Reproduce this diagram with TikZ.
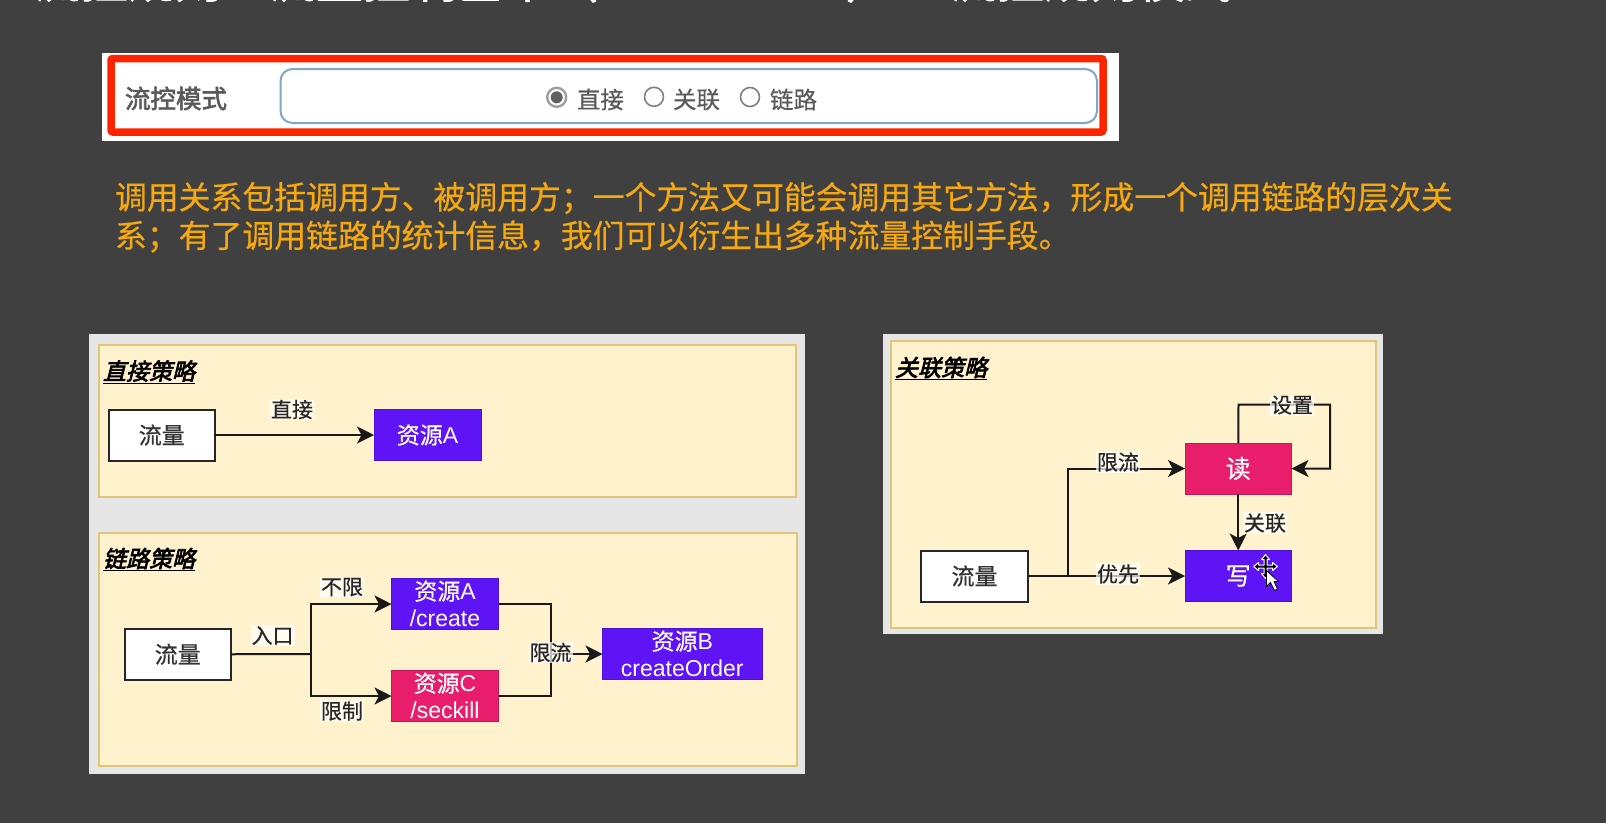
\documentclass[tikz,border=0pt]{standalone}
\usepackage{fontspec}
\usetikzlibrary{arrows.meta}
\setmainfont{Noto Sans CJK SC}
\newfontfamily\la{Liberation Sans}
\newfontfamily\cjbold[FakeBold=1.5]{Noto Sans CJK SC}
\newfontfamily\cjmode[FakeBold=2.2]{Noto Sans CJK SC}
\newfontfamily\cjmed[FakeBold=0.5]{Noto Sans CJK SC}
\newfontfamily\cjital[FakeSlant=0.25,FakeBold=3]{Noto Sans CJK SC}
\newcommand{\fsz}[1]{\fontsize{#1pt}{#1pt}\selectfont}
\definecolor{bgdark}{HTML}{404040}
\definecolor{panelgray}{HTML}{E6E6E6}
\definecolor{cream}{HTML}{FFF2CC}
\definecolor{creamline}{HTML}{DFC67A}
\definecolor{violetbox}{HTML}{5E14F5}
\definecolor{pinkbox}{HTML}{E91E6B}
\definecolor{orangetxt}{HTML}{F5A80F}
\definecolor{redframe}{HTML}{FF2400}
\definecolor{inputline}{HTML}{7FA8C9}
\definecolor{greytxt}{HTML}{5A5A5A}
\tikzset{
  x=1pt,y=-1pt,
  every node/.style={inner sep=0pt,outer sep=0pt},
  panelgrey/.style={fill=panelgray},
  panelcream/.style={fill=cream,draw=creamline,line width=2pt},
  whitebox/.style={fill=white,draw=black!85,line width=2pt,text=black!80,font=\cjmed\fsz{23}},
  violet box/.style={fill=violetbox,draw=violetbox!85!black,line width=1pt,text=white,font=\cjmed\fsz{23},align=center},
  pink box/.style={fill=pinkbox,draw=pinkbox!85!black,line width=1pt,text=white,font=\cjmed\fsz{23},align=center},
  conn/.style={draw=black!90,line width=2pt},
  arr/.style={conn,-{Stealth[length=17pt,width=17pt,inset=4.5pt]}},
  edgelabel/.style={fill=white,fill opacity=.7,text opacity=1,text=black!85,font=\cjmed\fsz{21},inner sep=1pt},
  strategy/.style={text=black,font=\cjital\fsz{23},anchor=west},
  optlabel/.style={text=greytxt,font=\cjmed\fsz{23.5},anchor=center},
  radio/.style={circle,draw=black!50,line width=1.6pt,fill=white,minimum size=19pt},
}
\newcommand{\bx}[7][]{%
  \node[#2,minimum width={(#6-#4)*1pt},minimum height={(#7-#5)*1pt},#1] (#3) at ({(#4+#6)/2},{(#5+#7)/2}) }
\begin{document}
\begin{tikzpicture}
\useasboundingbox (0,0) rectangle (1606,823);
\fill[bgdark] (0,0) rectangle (1606,823);

% clipped title, only its lower edge is inside the page
\begin{scope}
\clip (0,0) rectangle (1606,823);
\node[anchor=base west,text=white,font=\cjbold\fsz{47}] (titleA) at (34,-2) {流控规则：流量控制基本（};
\node[anchor=base west,text=white,font=\cjbold\fsz{47}] (titleB) at (846,-2) {）};
\node[anchor=base west,text=white,font=\cjbold\fsz{47}] (titleC) at (950,-2) {流控规则模式};
\end{scope}

% form strip
\bx{fill=white}{strip}{102.4}{52.5}{1119}{140.5}{};
\bx{draw=redframe,line width=7.5pt,rounded corners=2pt}{frame}{111}{58.5}{1103}{132}{};
\bx{draw=inputline,line width=2pt,fill=white,rounded corners=12pt}{input}{280.5}{69}{1097}{123}{};
\node[text=greytxt,font=\cjmode\fsz{25.5},anchor=west] (mode) at (125,98.5) {流控模式};
\node[radio,draw=black!38,line width=2.4pt] (r1) at (556.7,97.3) {};
\fill[black!62] (r1.center) circle (6);
\node[optlabel] (t1) at (600.5,99.5) {直接};
\node[radio] (r2) at (654,96.8) {};
\node[optlabel] (t2) at (696.5,99.5) {关联};
\node[radio] (r3) at (750,97) {};
\node[optlabel] (t3) at (793.5,99.5) {链路};

% orange paragraph
\node[anchor=north west,text=orangetxt,font=\cjmed\fontsize{31.85pt}{38.5pt}\selectfont,align=left] (para) at (115,182)
 {调用关系包括调用方、被调用方；一个方法又可能会调用其它方法，形成一个调用链路的层次关\\
  系；有了调用链路的统计信息，我们可以衍生出多种流量控制手段。};

% left panels
\bx{panelgrey}{leftbg}{88.5}{334}{805}{774}{};
\bx{panelcream}{direct}{98.5}{344.5}{796}{497}{};
\bx{panelcream}{chain}{98.5}{532.5}{797}{766}{};
\node[strategy] (directT) at (103,372) {\underline{直接策略}};
\node[strategy] (chainT) at (103,559.5) {\underline{链路策略}};

\bx{whitebox}{dflow}{108.5}{409.5}{215}{460.5}{流量};
\bx{violet box}{dres}{374}{409.5}{481}{460.5}{资源{\la A}};
\draw[arr] (dflow) -- (dres);
\node[edgelabel] (dl) at (292,409.5) {直接};

\bx{whitebox}{cflow}{124.5}{629}{231}{679.5}{流量};
\bx[font=\cjmed\fontsize{23pt}{27pt}\selectfont]{violet box}{cresA}{391.5}{578.5}{498.5}{629.5}{\raisebox{1pt}{资源{\la A}}\\[-0.5pt]\raisebox{1pt}{\la /create}};
\bx[font=\cjmed\fontsize{23pt}{27pt}\selectfont]{pink box}{cresC}{391.5}{670.5}{498.5}{721.5}{\raisebox{1pt}{资源{\la C}}\\[-0.5pt]\raisebox{1pt}{\la /seckill}};
\bx[font=\cjmed\fontsize{23pt}{27pt}\selectfont]{violet box}{cresB}{602.5}{628.5}{762}{679.5}{\raisebox{1pt}{资源{\la B}}\\[-0.5pt]\raisebox{1pt}{\la createOrder}};
\coordinate (jl) at (311,654);
\coordinate (jr) at (550.5,654);
\draw[conn] (cflow.east) -- (jl);
\draw[arr] (jl) |- (cresA.west);
\draw[arr] (jl) |- (cresC.west);
\draw[conn] (cresA.east) -| (jr);
\draw[conn] (cresC.east) -| (jr);
\draw[arr] (jr) -- (cresB.west |- jr);
\node[edgelabel] (l1) at (272.5,635.5) {入口};
\node[edgelabel] (l2) at (342,587) {不限};
\node[edgelabel] (l3) at (342,711) {限制};
\node[edgelabel] (l4) at (550.5,652.5) {限流};

% right panel
\bx{panelgrey}{rightbg}{883}{334}{1383}{634}{};
\bx{panelcream}{assoc}{891}{341}{1376}{628}{};
\node[strategy] (assocT) at (895,368.5) {\underline{关联策略}};
\bx{whitebox}{aflow}{921}{550.5}{1028}{601.5}{流量};
\bx[font=\cjmed\fsz{25}]{pink box}{read}{1185}{443}{1291.5}{494}{读};
\bx[font=\cjmed\fsz{25}]{violet box}{write}{1185}{550.5}{1291.5}{601.5}{写};
\coordinate (aj) at (1067.5,576);
\coordinate (loopA) at (1238.5,404.5);
\coordinate (loopB) at (1330,404.5);
\draw[arr] (aflow.east) -- (write.west);
\draw[arr] (aj) |- (read.west);
\draw[arr] (read.south) -- (write.north);
\draw[arr] (read.north) -- (loopA) -- (loopB) |- (read.east);
\node[edgelabel] (a1) at (1118,462) {限流};
\node[edgelabel] (a2) at (1118,574) {优先};
\node[edgelabel] (a3) at (1292,405) {设置};
\node[edgelabel] (a4) at (1265,523) {关联};

% mouse cursor left in the screenshot
\begin{scope}[shift={(1265.5,566.5)}]
\draw[white,line width=1pt,fill=black,line join=round]
 (0,-12) -- (4,-7) -- (1.5,-7) -- (1.5,-1.5) -- (7,-1.5) -- (7,-4) -- (12,0) -- (7,4) -- (7,1.5) -- (1.5,1.5)
 -- (1.5,7) -- (4,7) -- (0,12) -- (-4,7) -- (-1.5,7) -- (-1.5,1.5) -- (-7,1.5) -- (-7,4) -- (-12,0) -- (-7,-4)
 -- (-7,-1.5) -- (-1.5,-1.5) -- (-1.5,-7) -- (-4,-7) -- cycle;
\draw[black,line width=.8pt,fill=white,line join=round]
 (1,4) -- (1,20) -- (5,16) -- (9,24) -- (12,22.5) -- (8.5,15) -- (13,15) -- cycle;
\end{scope}
\end{tikzpicture}
\end{document}
